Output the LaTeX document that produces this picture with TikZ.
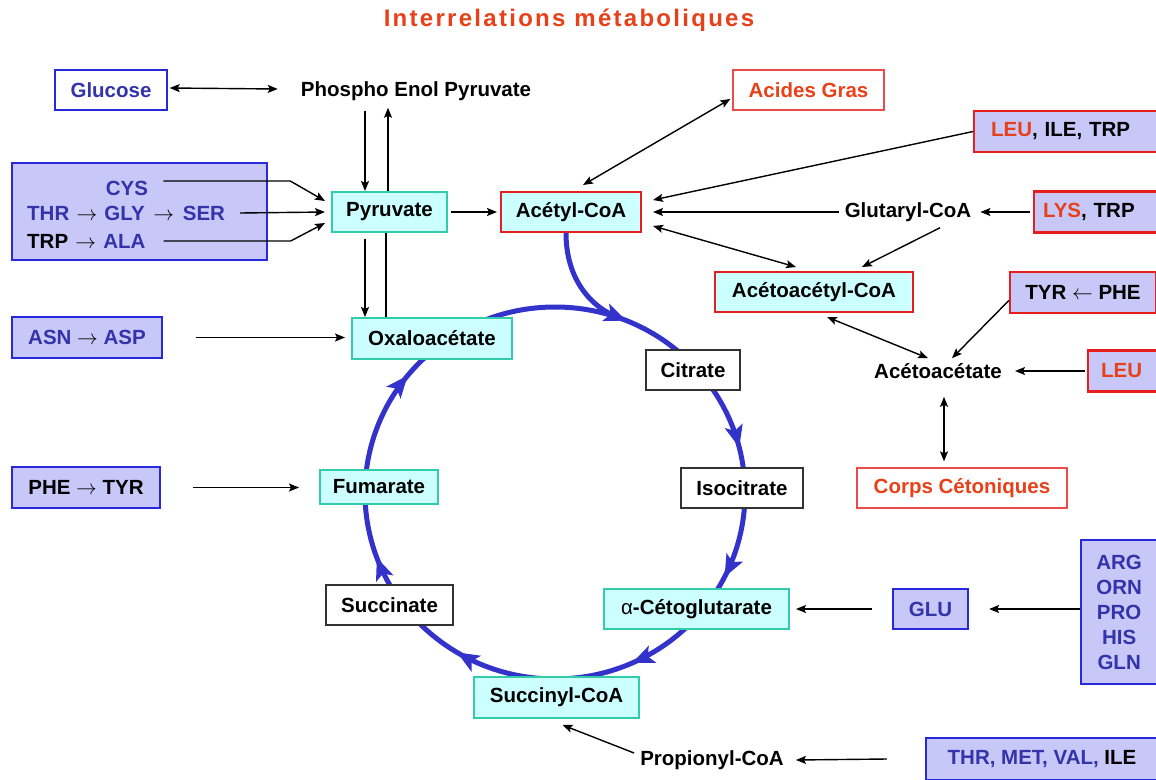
\documentclass[tikz,border=0pt]{standalone}
\usepackage{fontspec}
\setmainfont{Liberation Sans}
\newfontfamily\titlefont[LetterSpace=9.5]{Liberation Sans}
\usetikzlibrary{arrows.meta,decorations.markings,backgrounds,calc}
\definecolor{cyanf}{RGB}{204,255,255}
\definecolor{tealb}{RGB}{51,204,170}
\definecolor{lav}{RGB}{200,200,248}
\definecolor{bluebd}{RGB}{40,40,220}
\definecolor{bluet}{RGB}{51,51,170}
\definecolor{redbd}{RGB}{232,30,30}
\definecolor{redt}{RGB}{232,64,25}
\definecolor{grayb}{RGB}{50,50,50}
\definecolor{cyc}{RGB}{51,51,204}
\newcommand\myra{$\rightarrow$}
\newcommand\myla{$\leftarrow$}
\tikzset{
  mytip/.tip={Stealth[length=10pt,width=8pt,inset=2pt]},
  ctip/.tip={Stealth[length=22pt,width=18pt,inset=5pt,color=cyc]}
}
\begin{document}
\begin{tikzpicture}[x=1pt,y=-1pt,
  every node/.style={font=\bfseries\fontsize{20.5}{25}\selectfont},
  txt/.style={inner sep=2pt},
  bx/.style={draw, line width=2pt, inner sep=0pt, minimum height=40pt},
  cbox/.style={bx, fill=cyanf, draw=tealb},
  rcbox/.style={bx, fill=cyanf, draw=redbd},
  lrbox/.style={bx, fill=lav, draw=redbd, line width=2.3pt},
  lbbox/.style={bx, fill=lav, draw=bluebd, line width=2.3pt},
  wbox/.style={bx, fill=white, draw=grayb, line width=1.6pt},
  thinr/.style={bx, fill=white, draw=redbd!80, line width=1.3pt, text=redt},
  thinb/.style={bx, fill=white, draw=bluebd, line width=1.3pt, text=bluet},
  arr/.style={-{mytip}, line width=1.4pt},
  dbl/.style={{mytip}-{mytip}, line width=1.4pt},
  ln/.style={line width=1.4pt},
  cycl/.style={draw=cyc, line width=5pt}
]
\useasboundingbox (0,0) rectangle (1156,779);
\clip (0,0) rectangle (1156,779);

% title
\node[text=redt, font=\titlefont\bfseries\fontsize{24}{28}\selectfont] (title) at (569,20) {Interrelations métaboliques};

% top row
\node[thinb, minimum width=112pt] (glucose) at (111,90) {Glucose};
\node[txt] (pep) at (416,91) {Phospho Enol Pyruvate};
\node[thinr, minimum width=151pt] (acides) at (808.5,90) {Acides Gras};
\node[lrbox, anchor=west, text width=200pt, align=left, inner xsep=17pt, minimum height=41pt] (leu1) at (973,131.5) {\textcolor{redt}{LEU}, ILE, TRP};

% left block
\node[lbbox, minimum width=255pt, minimum height=97pt] (aa) at (139.5,211.5) {};
\node[txt, text=bluet] (cys) at (127,188) {CYS};
\node[txt, anchor=west] (line2) at (25,213) {\textcolor{bluet}{THR}\ \hspace{1.5pt}\myra\ \hspace{1.5pt}\textcolor{bluet}{GLY}\ \hspace{3pt}\myra\ \hspace{3pt}\textcolor{bluet}{SER}};
\node[txt, anchor=west] (line3) at (25,241) {TRP\ \hspace{1.5pt}\myra\ \hspace{1.5pt}\textcolor{bluet}{ALA}};

\node[cbox, minimum width=115pt] (pyr) at (389.5,212) {Pyruvate};
\node[rcbox, minimum width=140pt] (acetyl) at (571,212) {Acétyl-CoA};
\node[txt] (glut) at (908,212) {Glutaryl-CoA};
\node[lrbox, anchor=west, text width=150pt, align=left, inner xsep=9pt, minimum height=41pt] (lys) at (1033,212) {\textcolor{redt}{LYS}, TRP};

\node[rcbox, minimum width=198pt] (acacoa) at (814,292) {Acétoacétyl-CoA};
\node[lrbox, minimum width=146pt, minimum height=41pt] (tyrphe) at (1083,292.5) {TYR \myla{} PHE};

\node[lbbox, minimum width=150pt, minimum height=41pt] (asn) at (87,337.5) {\textcolor{bluet}{ASN} \myra{} \textcolor{bluet}{ASP}};
\node[cbox, minimum width=160pt, minimum height=41pt] (oxalo) at (432,338.5) {Oxaloacétate};
\node[wbox, minimum width=94pt] (citrate) at (693,370) {Citrate};
\node[txt] (acac) at (938,371) {Acétoacétate};
\node[lrbox, anchor=west, text width=80pt, align=left, inner xsep=13pt, minimum height=41pt] (leu2) at (1087,371) {\textcolor{redt}{LEU}};

\node[lbbox, minimum width=148pt, minimum height=41pt] (phe) at (86,487.5) {PHE \myra{} TYR};
\node[cbox, minimum width=118pt, minimum height=34pt] (fum) at (379,487) {Fumarate};
\node[wbox, minimum width=122pt] (isocit) at (742,488) {Isocitrate};
\node[thinr, minimum width=210pt] (corps) at (962,488) {Corps Cétoniques};

\node[wbox, minimum width=127pt] (succ) at (389.5,605) {Succinate};
\node[cbox, minimum width=185pt] (akg) at (696.5,609) {{\normalfont α}-Cétoglutarate};
\node[lbbox, minimum width=75pt, text=bluet] (glu) at (930.5,609) {GLU};
\node[lbbox, anchor=west, text width=76pt, align=center, inner xsep=0pt, minimum height=144pt, text=bluet] (arg) at (1080,612) {ARG\\ORN\\PRO\\HIS\\GLN};

\node[cbox, minimum width=165pt, minimum height=41pt] (succoa) at (556.5,697.5) {Succinyl-CoA};
\node[txt] (prop) at (712,760) {Propionyl-CoA};
\node[lbbox, minimum width=232pt, minimum height=42pt] (thr) at (1042,759) {\textcolor{bluet}{THR, MET, VAL,} ILE};

% Krebs cycle on background
\coordinate (merge) at (620,318.2);
\begin{scope}[on background layer]
\fill[white] (0,0) rectangle (1156,779);
\draw[cycl, postaction={decorate}, decoration={markings,
  mark=at position 0.074 with {\arrow{ctip}},
  mark=at position 0.183 with {\arrow{ctip}},
  mark=at position 0.337 with {\arrow{ctip}},
  mark=at position 0.444 with {\arrow{ctip}},
  mark=at position 0.608 with {\arrow{ctip}},
  mark=at position 0.812 with {\arrow{ctip}},
  mark=at position 0.961 with {\arrow{ctip}}}]
  (555,493) ellipse [x radius=190, y radius=186];
\draw[cycl] ([xshift=-5pt]acetyl.south) .. controls (566,280) and (591.7,308.1) .. (merge);
\end{scope}

% connectors
\draw[dbl] ([xshift=2pt,yshift=2pt]glucose.east) -- ([xshift=-21pt,yshift=2pt]pep.west);
\draw[arr] ([xshift=-51pt,yshift=-8pt]pep.south) -- ([xshift=-24.5pt]pyr.north);
\draw[arr] ([xshift=-1.5pt]pyr.north) -- ([xshift=-28pt,yshift=-5pt]pep.south);
\draw[arr] ([xshift=-24.5pt,yshift=-6pt]pyr.south) -- ([xshift=-67pt]oxalo.north);
\draw[ln] ([xshift=-3.5pt]pyr.south) -- ([xshift=-46pt]oxalo.north);

\draw[arr] ([xshift=13pt,yshift=7pt]cys.east) -- ++(127,0) -- ([xshift=-6pt,yshift=11pt]pyr.west);
\draw[arr] ([xshift=13pt]line2.east) -- ([xshift=-6pt]pyr.west);
\draw[arr] ([xshift=16pt]line3.east) -- ++(127,0) -- ([xshift=-6pt,yshift=-11pt]pyr.west);

\draw[arr] ([xshift=3pt]pyr.east) -- ([xshift=-3pt]acetyl.west);
\draw[dbl] ([xshift=12pt,yshift=6pt]acetyl.north) -- ([xshift=-2pt,yshift=-9pt]acides.west);
\draw[arr] (leu1.west) -- ([xshift=11pt,yshift=12pt]acetyl.east);
\draw[arr] ([xshift=-4pt]glut.west) -- ([xshift=11pt]acetyl.east);
\draw[arr] ([xshift=-3pt]lys.west) -- ([xshift=7pt]glut.east);
\draw[dbl] ([xshift=11pt,yshift=-14pt]acetyl.east) -- ([xshift=-18pt,yshift=4pt]acacoa.north);
\draw[arr] ([xshift=32pt,yshift=-4pt]glut.south) -- ([xshift=48pt,yshift=4pt]acacoa.north);
\draw[dbl] ([xshift=13pt,yshift=-4pt]acacoa.south) -- ([xshift=-10pt,yshift=3pt]acac.north);
\draw[arr] ([yshift=-8pt]tyrphe.west) -- ([xshift=14pt,yshift=3pt]acac.north);
\draw[arr] ([xshift=-2pt]leu2.west) -- ([xshift=11pt]acac.east);
\draw[dbl] ([xshift=6pt,yshift=-16pt]acac.south) -- ([xshift=-18pt,yshift=6pt]corps.north);

\draw[arr] ([xshift=33pt]asn.east) -- ([xshift=-6pt]oxalo.west |- asn.east);
\draw[arr] ([xshift=32pt]phe.east) -- ([xshift=-20pt]fum.west |- phe.east);
\draw[arr] ([xshift=-20pt]glu.west) -- ([xshift=6pt]akg.east);
\draw[arr] (arg.west |- glu.east) -- ([xshift=20pt]glu.east);
\draw[arr] ([xshift=-4pt,yshift=7pt]prop.west) -- ([xshift=6pt,yshift=-6pt]succoa.south);
\draw[arr] ([xshift=-38pt]thr.west) -- ([xshift=10pt]prop.east);
\end{tikzpicture}
\end{document}
